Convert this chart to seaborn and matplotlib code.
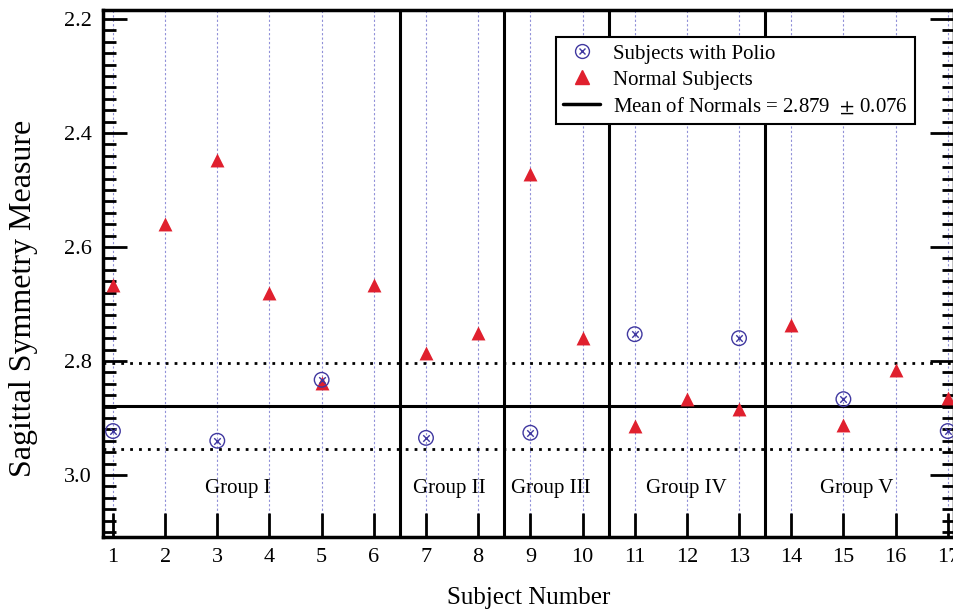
import matplotlib.pyplot as plt
import matplotlib.ticker as mticker
from matplotlib.lines import Line2D
import pandas as pd
import seaborn as sns

# datos
sujetos = list(range(1, 18))
normales = [2.667, 2.560, 2.447, 2.680, 2.839, 2.667, 2.786, 2.751, 2.472,
            2.760, 2.914, 2.867, 2.884, 2.737, 2.912, 2.816, 2.865]
polio_sujetos = [1, 3, 5, 7, 9, 11, 13, 15, 17]
polio = [2.923, 2.940, 2.833, 2.935, 2.926, 2.753, 2.760, 2.867, 2.923]
media = 2.879
desvio = 0.076
separadores = [6.5, 8.5, 10.5, 13.5]
grupos = ['Group I', 'Group II', 'Group III', 'Group IV', 'Group V']
grupos_x = [3.4, 7.45, 9.4, 12.0, 15.25]

df_normales = pd.DataFrame({'sujeto': sujetos, 'valor': normales})
df_polio = pd.DataFrame({'sujeto': polio_sujetos, 'valor': polio})

sns.set_style('ticks')
plt.rcParams['font.family'] = ['Liberation Serif', 'DejaVu Serif']
plt.rcParams['mathtext.fontset'] = 'stix'
plt.rcParams['text.color'] = 'black'
plt.rcParams['axes.labelcolor'] = 'black'
plt.rcParams['xtick.color'] = 'black'
plt.rcParams['ytick.color'] = 'black'
plt.rcParams['axes.edgecolor'] = 'black'

azul = '#4038a0'
rojo = '#e0202e'

fig = plt.figure(figsize=(9.54, 6.12), dpi=100)
ax = fig.add_axes([0.108, 0.1225, 0.892, 0.8612])

# lineas punteadas verticales
for s in sujetos:
    ax.axvline(s, color='#9090d8', linestyle=(0, (2, 2)), linewidth=0.8, zorder=0)

for x in separadores:
    ax.axvline(x, color='black', linewidth=2.2, zorder=1)

ax.axhline(media, color='black', linewidth=2.2, zorder=1)
ax.axhline(media - desvio, color='black', linestyle=(0, (1, 2.2)), linewidth=2, zorder=1)
ax.axhline(media + desvio, color='black', linestyle=(0, (1, 2.2)), linewidth=2, zorder=1)

sns.scatterplot(data=df_normales, x='sujeto', y='valor', ax=ax, marker='^',
                s=100, color=rojo, edgecolor=rojo, linewidth=0, zorder=3)
sns.scatterplot(data=df_polio, x='sujeto', y='valor', ax=ax, marker='o',
                s=110, facecolor='none', edgecolor=azul, linewidth=1.0, zorder=4)
sns.scatterplot(data=df_polio, x='sujeto', y='valor', ax=ax, marker='x',
                s=22, color=azul, linewidth=1.0, zorder=4)

for g, gx in zip(grupos, grupos_x):
    ax.text(gx, 3.024, g, ha='center', va='center', fontsize=15)

ax.set_xlim(0.81, 17.12)
ax.set_ylim(3.109, 2.184)
ax.set_xticks(sujetos)
ax.yaxis.set_major_locator(mticker.MultipleLocator(0.2))
ax.yaxis.set_minor_locator(mticker.MultipleLocator(0.02))
ax.yaxis.set_major_formatter(mticker.FormatStrFormatter('%.1f'))
ax.tick_params(axis='both', which='major', direction='in', length=17, width=2,
               labelsize=16, right=True, top=False, pad=8)
ax.tick_params(axis='y', which='minor', direction='in', length=9, width=2, right=True)
for sp in ax.spines.values():
    sp.set_linewidth(2.5)
    sp.set_color('black')

ax.set_xlabel('Subject Number', fontsize=18, labelpad=14)
ax.set_ylabel('Sagittal Symmetry Measure', fontsize=23)
ax.yaxis.set_label_coords(-0.077, 0.452)

circulo = Line2D([], [], linestyle='none', marker='o', markersize=10,
                 markerfacecolor='none', markeredgecolor=azul, markeredgewidth=1.0)
cruz = Line2D([], [], linestyle='none', marker='x', markersize=4.5,
              color=azul, markeredgewidth=1.0)
manejadores = [
    (circulo, cruz),
    Line2D([], [], linestyle='none', marker='^', markersize=10, color=rojo),
    Line2D([], [], color='black', linewidth=2.5),
]
etiquetas = ['Subjects with Polio', 'Normal Subjects',
             'Mean of Normals = 2.879  $\\pm$ 0.076']
leg = ax.legend(manejadores, etiquetas, loc='upper right', bbox_to_anchor=(0.954, 0.949),
                borderaxespad=0, fontsize=15, frameon=True, fancybox=False, framealpha=1,
                edgecolor='black', handlelength=1.8, handletextpad=0.6,
                borderpad=0.35, labelspacing=0.3)
leg.get_frame().set_linewidth(1.5)

fig.savefig('out.png', dpi=100)
